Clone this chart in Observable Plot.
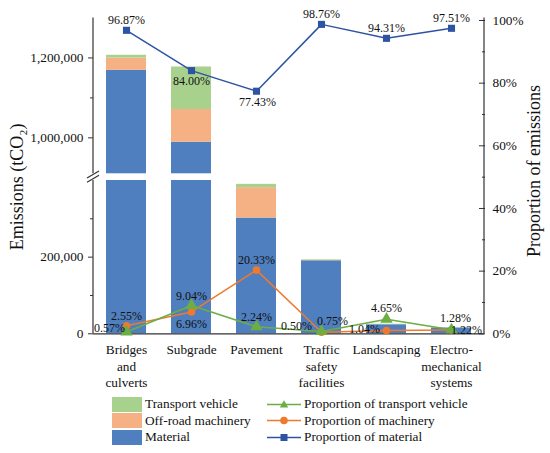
<!DOCTYPE html>
<html>
<head>
<meta charset="utf-8">
<script src="https://cdn.jsdelivr.net/npm/d3@7"></script>
<script src="https://cdn.jsdelivr.net/npm/@observablehq/plot@0.6"></script>
<style>
  html, body { margin: 0; padding: 0; background: #fff; overflow: hidden; }
  #wrap { position: relative; width: 550px; height: 453px; font-family: "Liberation Serif", "Times New Roman", serif; color: #111; }
  #wrap svg.layer { position: absolute; left: 0; top: 0; }
  .item { position: absolute; display: flex; align-items: center; height: 15px; white-space: nowrap; font-size: 13.3px; }
  .item .sw { width: 30px; height: 15px; margin-right: 3px; }
  .item svg { margin-right: 3px; }
</style>
</head>
<body>
<div id="wrap"></div>
<script>
// ---------- data ----------
const categories = ["Bridges and culverts", "Subgrade", "Pavement", "Traffic safety facilities", "Landscaping", "Electro-mechanical systems"];
const tickLabels = ["Bridges\nand\nculverts", "Subgrade", "Pavement", "Traffic\nsafety\nfacilities", "Landscaping", "Electro-\nmechanical\nsystems"];
const material  = [1169000, 989000, 302000, 190600, 23600, 15100];
const machinery = [30800, 82000, 79300, 970, 260, 190];
const transport = [6900, 106400, 8700, 1450, 1160, 200];
const pMaterial  = [96.87, 84.00, 77.43, 98.76, 94.31, 97.51];
const pMachinery = [2.55, 6.96, 20.33, 0.50, 1.04, 1.22];
const pTransport = [0.57, 9.04, 2.24, 0.75, 4.65, 1.28];
const leftTicks = [0, 200000, 1000000, 1200000];
const leftMinorTicks = [100000, 300000, 1100000];
const rightTicks = [0, 20, 40, 60, 80, 100];
const rightMinorTicks = [10, 30, 50, 70, 90];
const barKeys = ["Material", "Off-road machinery", "Transport vehicle"];
const legendBars = ["Transport vehicle", "Off-road machinery", "Material"];
const legendLines = ["Proportion of transport vehicle", "Proportion of machinery", "Proportion of material"];

// ---------- styling / layout ----------
const W = 550, H = 393;
const M = {left: 93, right: 66, top: 17.5, bottom: 59.7};
const font = '"Liberation Serif", "Times New Roman", serif';
const barColors = ["#4F7FBE", "#F5B183", "#A9D18E"];
const lineColors = {material: "#2E53A2", machinery: "#EF7A2E", transport: "#6BAE44"};
const axisColor = "#333";

// label placement (pixel offsets from the point)
const matOff   = [[0, -10.5], [0, 10.5], [1, 10.5], [0, -10], [0, -10.3], [0, -10]];
const machOff  = [[0, -9.5], [0, 12], [0, -9.6], [-25, -5.7], [-22, -1], [15, 0]];
const transOff = [[-17, -3.5], [0, -9], [0, -9.6], [11, -10], [0, -11], [4, -12]];

const xScale = {domain: categories, paddingInner: 0.39, paddingOuter: 0.195, label: null};
const baseStyle = {fontFamily: font, fontSize: "13.3px", color: "#111", background: "transparent", overflow: "visible"};

// ---------- bars ----------
const barRows = [];
categories.forEach((c, i) => {
  let base = 0;
  [material, machinery, transport].forEach((arr, k) => {
    barRows.push({cat: c, key: barKeys[k], y1: base, y2: base + arr[i]});
    base += arr[i];
  });
});

const barPlot = Plot.plot({
  width: W, height: H,
  marginLeft: M.left, marginRight: M.right, marginTop: M.top, marginBottom: M.bottom,
  style: baseStyle,
  x: xScale,
  y: {type: "linear", domain: [0, 400000, 910000, 1300000], range: [333.3, 180, 173.3, 17.5], label: null},
  color: {domain: barKeys, range: barColors},
  marks: [
    Plot.barY(barRows, {x: "cat", y1: "y1", y2: "y2", fill: "key"}),
    Plot.rect([0], {y1: () => 400000, y2: () => 910000, fill: "white"}),
    Plot.ruleY([0], {stroke: axisColor, strokeWidth: 1.2}),
    Plot.axisY({anchor: "left", ticks: leftTicks, tickFormat: d3.format(","), tickSize: 5, tickPadding: 5, fontSize: 13.3, stroke: axisColor, label: null}),
    Plot.axisY({anchor: "left", ticks: leftMinorTicks, tickSize: 3, tickFormat: () => "", stroke: axisColor, label: null}),
    Plot.axisX({anchor: "bottom", tickSize: 0, tickPadding: 9, fontSize: 13.3, lineHeight: 1.23, tickFormat: d => tickLabels[categories.indexOf(d)], label: null}),
    Plot.text(["Emissions (tCO\u2082)"], {frameAnchor: "left", textAnchor: "middle", dx: -76, dy: 11, rotate: -90, fontSize: 18, text: d => d})
  ]
});
barPlot.classList.add("layer");

// axis line with break
{
  const sx = barPlot.scale("x"), sy = barPlot.scale("y");
  const yb = d3.scaleLinear(sy.domain, sy.range);
  const x0 = sx.range[0];
  const g = d3.select(barPlot).append("g").attr("stroke", axisColor).attr("stroke-width", 1.2).attr("fill", "none");
  g.append("line").attr("x1", x0).attr("x2", x0).attr("y1", yb(0)).attr("y2", yb(400000));
  g.append("line").attr("x1", x0).attr("x2", x0).attr("y1", yb(910000)).attr("y2", yb(1300000));
  const ym = (yb(400000) + yb(910000)) / 2;
  [-2.2, 2.2].forEach(o => {
    g.append("line").attr("x1", x0 - 6).attr("x2", x0 + 6).attr("y1", ym + o + 3.5).attr("y2", ym + o - 3.5);
  });
}

// ---------- proportion lines ----------
const lineRows = categories.map((c, i) => ({cat: c, material: pMaterial[i], machinery: pMachinery[i], transport: pTransport[i]}));
const series = [
  {key: "material", symbol: "square", r: 4, offsets: matOff},
  {key: "machinery", symbol: "circle", r: 3.8, offsets: machOff},
  {key: "transport", symbol: "triangle", r: 4.6, offsets: transOff}
];

const lineMarks = [];
series.forEach(s => {
  lineMarks.push(Plot.line(lineRows, {x: "cat", y: s.key, stroke: lineColors[s.key], strokeWidth: 1.5}));
  lineMarks.push(Plot.dot(lineRows, {x: "cat", y: s.key, fill: lineColors[s.key], symbol: s.symbol, r: s.r}));
});
series.forEach(s => {
  lineRows.forEach((row, i) => {
    lineMarks.push(Plot.text([row], {x: "cat", y: s.key, text: d => d[s.key].toFixed(2) + "%", dx: s.offsets[i][0], dy: s.offsets[i][1], fontSize: 12}));
  });
});

const linePlot = Plot.plot({
  width: W, height: H,
  marginLeft: M.left, marginRight: M.right, marginTop: M.top, marginBottom: M.bottom,
  style: baseStyle,
  x: {...xScale, axis: null},
  y: {type: "linear", domain: [0, 100], range: [333.3, 20], label: null},
  marks: [
    ...lineMarks,
    Plot.axisY({anchor: "right", ticks: rightTicks, tickFormat: d => d + "%", tickSize: 0, tickPadding: 8, fontSize: 13.3, label: null}),
    Plot.axisY({anchor: "right", ticks: rightTicks, tickSize: 6, dx: -6, tickFormat: () => "", stroke: axisColor, label: null}),
    Plot.axisY({anchor: "right", ticks: rightMinorTicks, tickSize: 3, dx: -3, tickFormat: () => "", stroke: axisColor, label: null}),
    Plot.text(["Proportion of emissions"], {frameAnchor: "right", textAnchor: "middle", dx: 50, dy: -5, rotate: -90, fontSize: 18, text: d => d})
  ]
});
linePlot.classList.add("layer");
{
  const sx = linePlot.scale("x"), sy = linePlot.scale("y");
  const ly = d3.scaleLinear(sy.domain, sy.range);
  const xr = sx.range[1];
  d3.select(linePlot).append("line").attr("stroke", axisColor).attr("stroke-width", 1.2)
    .attr("x1", xr).attr("x2", xr).attr("y1", ly(0)).attr("y2", 17.5);
}

const wrap = document.getElementById("wrap");
wrap.appendChild(barPlot);
wrap.appendChild(linePlot);

// ---------- legend ----------
const rowTop = 396.5, rowStep = 16.7;
const legendBarColors = [barColors[2], barColors[1], barColors[0]];
legendBars.forEach((name, r) => {
  const d = document.createElement("div");
  d.className = "item";
  d.style.left = "112px";
  d.style.top = (rowTop + r * rowStep) + "px";
  d.innerHTML = `<div class="sw" style="background:${legendBarColors[r]}"></div><span>${name}</span>`;
  wrap.appendChild(d);
});
const legendLineKeys = ["transport", "machinery", "material"];
legendLines.forEach((name, r) => {
  const key = legendLineKeys[r];
  const c = lineColors[key];
  let marker;
  if (key === "material") marker = `<rect x="13.5" y="4" width="7" height="7" fill="${c}"/>`;
  else if (key === "machinery") marker = `<circle cx="17" cy="7.5" r="3.8" fill="${c}"/>`;
  else marker = `<path d="M17,3.2 L21.2,10.5 L12.8,10.5 Z" fill="${c}"/>`;
  const d = document.createElement("div");
  d.className = "item";
  d.style.left = "267px";
  d.style.top = (rowTop + r * rowStep) + "px";
  d.innerHTML = `<svg width="34" height="15"><line x1="0" x2="34" y1="7.5" y2="7.5" stroke="${c}" stroke-width="1.5"/>${marker}</svg><span>${name}</span>`;
  wrap.appendChild(d);
});
</script>
</body>
</html>
